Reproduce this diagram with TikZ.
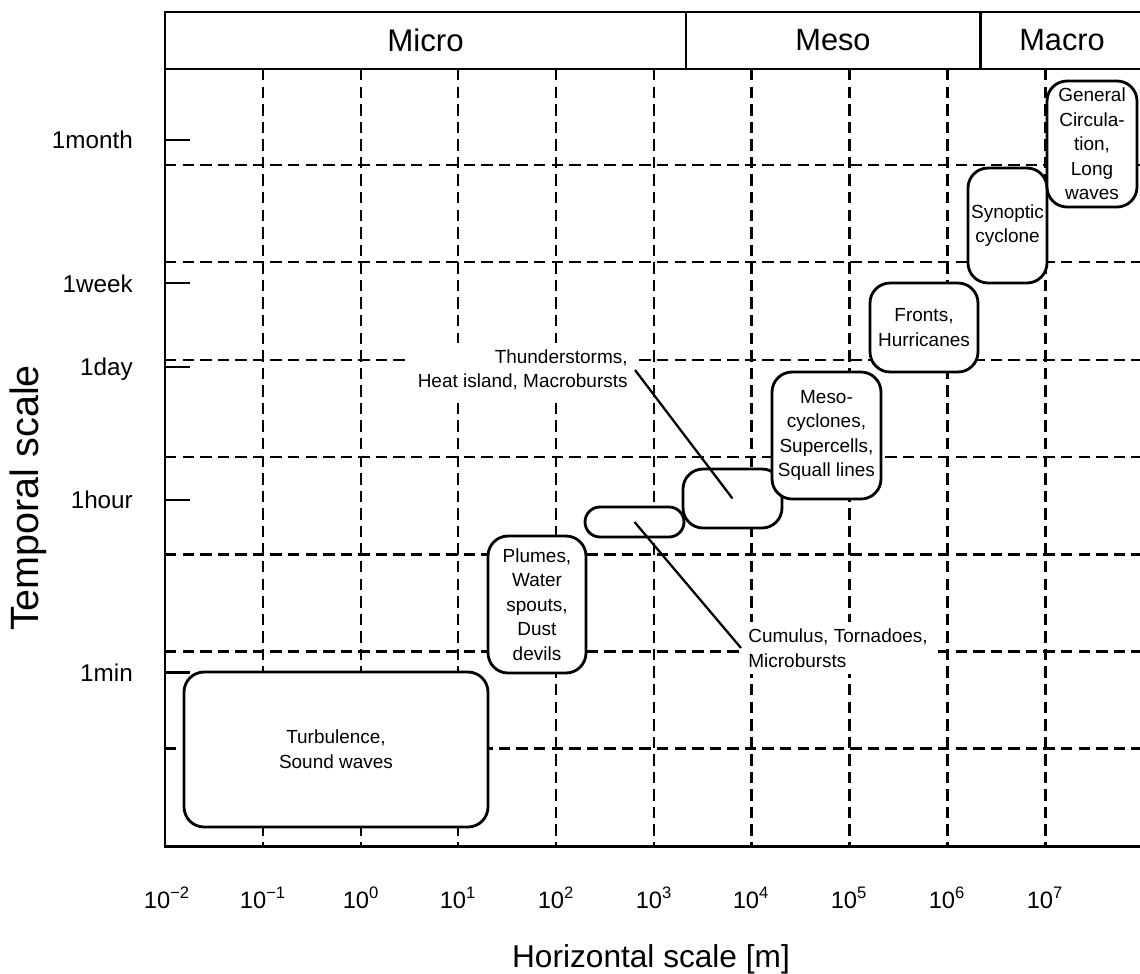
\documentclass[tikz,border=0pt]{standalone}
\usepackage{fontspec}
\setmainfont{Liberation Sans}

\begin{document}
\begin{tikzpicture}[x=0.02cm, y=-0.02cm,
    frame/.style={line width=1.7pt},
    gridline/.style={line width=1.7pt, dash pattern=on 6.5pt off 3.5pt},
    evbox/.style={draw, line width=1.6pt, fill=white, rounded corners=0.4cm,
      align=center, inner sep=1pt, font=\fontsize{10.8}{14}\selectfont},
    note/.style={fill=white, inner sep=4pt, font=\fontsize{10.8}{14}\selectfont},
    ticklabel/.style={anchor=base, font=\fontsize{13.5}{15}\selectfont},
    timelabel/.style={anchor=east, font=\fontsize{13.8}{15}\selectfont}]
    \useasboundingbox (0,0) rectangle (1140,974);
    \clip (0,0) rectangle (1140,974);

    % header
    \draw [frame] (165,12) rectangle (1144,69);
    \draw [frame] (686,12) -- (686,69);
    \draw [frame] (980,12) -- (980,69);
    \path (425.5,40) node [font=\fontsize{17.8}{20}\selectfont] (micro) {Micro};
    \path (833,40)   node [font=\fontsize{17.5}{20}\selectfont] (meso)  {Meso};
    \path (1062,40)  node [font=\fontsize{17.5}{20}\selectfont] (macro) {Macro};

    % grid
    \draw [gridline] (263,69) -- (263,846);
    \draw [gridline] (361,69) -- (361,846);
    \draw [gridline] (458,69) -- (458,846);
    \draw [gridline] (556,69) -- (556,846);
    \draw [gridline] (654,69) -- (654,846);
    \draw [gridline] (751,69) -- (751,846);
    \draw [gridline] (849,69) -- (849,846);
    \draw [gridline] (947,69) -- (947,846);
    \draw [gridline] (1045,69) -- (1045,846);
    \draw [gridline] (165,165) -- (1144,165);
    \draw [gridline] (165,262) -- (1144,262);
    \draw [gridline] (165,360) -- (1144,360);
    \draw [gridline] (165,457) -- (1144,457);
    \draw [gridline] (165,554) -- (1144,554);
    \draw [gridline] (165,651) -- (1144,651);
    \draw [gridline] (165,748) -- (1144,748);

    % frame and time ticks
    \draw [frame] (165,69) -- (165,846) -- (1144,846) -- (1144,69);
    \draw [frame] (165,140) -- (190,140);
    \draw [frame] (165,283) -- (190,283);
    \draw [frame] (165,367) -- (190,367);
    \draw [frame] (165,500) -- (190,500);
    \draw [frame] (165,672) -- (190,672);

    % phenomena
    \path (336,749.5)  node [evbox, minimum width=6.08cm, minimum height=3.1cm] (turb)
     {Turbulence,\\Sound waves};
    \path (537,604.5)  node [evbox, minimum width=1.96cm, minimum height=2.74cm] (plumes)
     {Plumes,\\Water\\spouts,\\Dust\\devils};
    \path (634.5,522)  node [evbox, rounded corners=0.3cm, minimum width=1.98cm, minimum height=0.6cm] (cubox) {};
    \path (732.5,498.5) node [evbox, minimum width=1.98cm, minimum height=1.18cm] (thbox) {};
    \path (826.5,435.5) node [evbox, minimum width=2.18cm, minimum height=2.54cm] (mesocyc)
     {Meso-\\cyclones,\\Supercells,\\Squall lines};
    \path (924,327.5)  node [evbox, minimum width=2.16cm, minimum height=1.78cm] (fronts)
     {Fronts,\\Hurricanes};
    \path (1007.5,225.5) node [evbox, minimum width=1.58cm, minimum height=2.3cm] (synoptic)
     {Synoptic\\cyclone};
    \path (1092,144)   node [evbox, minimum width=1.8cm, minimum height=2.52cm] (general)
     {General\\Circula-\\tion,\\Long\\waves};

    \path (635,370) node [note, anchor=east, align=right] (thlabel)
     {Thunderstorms,\\Heat island, Macrobursts};
    \path (741,648) node [note, anchor=west, align=left] (culabel)
     {Cumulus, Tornadoes,\\Microbursts};
    \draw [line width=1.3pt] (thlabel.east) -- (thbox.center);
    \draw [line width=1.3pt] (cubox.center) -- (culabel.west);

    % time axis
    \path (139,140) node [timelabel] (lmonth) {1month};
    \path (139,284) node [timelabel] (lweek)  {1week};
    \path (139,369) node [timelabel] (lday)   {1day};
    \path (139,500) node [timelabel] (lhour)  {1hour};
    \path (139,673) node [timelabel] (lmin)   {1min};
    \path (28,498) node [rotate=90, font=\fontsize{22.5}{24}\selectfont] (tlabel) {Temporal scale};

    % length axis
    \path (167,908)  node [ticklabel] (xm2) {10\textsuperscript{−2}};
    \path (263,908)  node [ticklabel] (xm1) {10\textsuperscript{−1}};
    \path (361,908)  node [ticklabel] (x0)  {10\textsuperscript{0}};
    \path (458,908)  node [ticklabel] (x1)  {10\textsuperscript{1}};
    \path (556,908)  node [ticklabel] (x2)  {10\textsuperscript{2}};
    \path (654,908)  node [ticklabel] (x3)  {10\textsuperscript{3}};
    \path (751,908)  node [ticklabel] (x4)  {10\textsuperscript{4}};
    \path (849,908)  node [ticklabel] (x5)  {10\textsuperscript{5}};
    \path (947,908)  node [ticklabel] (x6)  {10\textsuperscript{6}};
    \path (1045,908) node [ticklabel] (x7)  {10\textsuperscript{7}};
    \path (651,959) node [font=\fontsize{18}{20}\selectfont] (hlabel) {Horizontal scale [m]};
\end{tikzpicture}
\end{document}
